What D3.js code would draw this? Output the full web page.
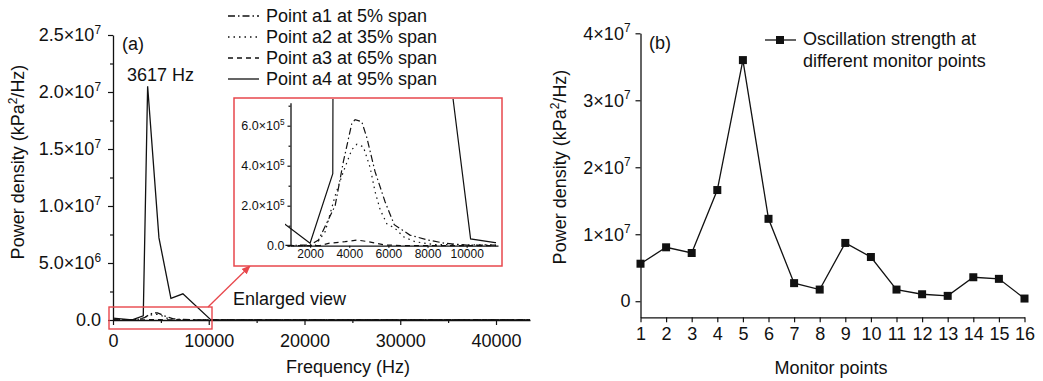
<!DOCTYPE html>
<html>
<head>
<meta charset="utf-8">
<script src="https://cdn.jsdelivr.net/npm/d3@7"></script>
<style>
  body { margin: 0; background: #fff; }
  svg text { font-family: "Liberation Sans", Arial, sans-serif; fill: #111; }
</style>
</head>
<body>
<div id="graf"></div>
<script>
// Datos gráfica (a): frecuencia (Hz) y densidad espectral
const freqA1 = [0, 2000, 2430, 3280, 3700, 4130, 4300, 4640, 4900, 5320, 5830, 6300, 7100, 8040, 8890, 10000, 43550]
const psdA1 = [0, 3.5e3, 2.8e4, 2.0e5, 4.2e5, 6.1e5, 6.3e5, 6.2e5, 5.4e5, 3.7e5, 2.2e5, 1.05e5, 5.3e4, 2.8e4, 1.2e4, 3e3, 0]

const freqA2 = [0, 2260, 2770, 3280, 3700, 4130, 4390, 4720, 5070, 5320, 5580, 5920, 6340, 6770, 7360, 8380, 43550]
const psdA2 = [0, 0, 7e4, 2.5e5, 3.7e5, 4.8e5, 5.07e5, 4.95e5, 3.9e5, 2.7e5, 1.8e5, 1.1e5, 8.7e4, 4.5e4, 2e4, 5e3, 0]

const freqA3 = [0, 2500, 2940, 3790, 4390, 4980, 5830, 7000, 43550]
const psdA3 = [0, 0, 1.2e4, 2e4, 2.85e4, 2e4, 3.5e3, 0, 0]

const freqA4 = [0, 2000, 3160, 3617, 4800, 6050, 7300, 10200, 11450, 43550]
const psdA4 = [1.6e5, 1.2e4, 3.6e5, 2.05e7, 7.2e6, 1.9e6, 2.3e6, 3.4e4, 1.5e4, 0]

const seriesNames = ['Point a1 at 5% span', 'Point a2 at 35% span', 'Point a3 at 65% span', 'Point a4 at 95% span']
const seriesDash = ['7,3,1.5,3', '1.5,4', '5,4', null]

// Ticks gráfica (a)
const xTicksA = [0, 10000, 20000, 30000, 40000]
const xMinorA = [5000, 15000, 25000, 35000]
const yTicksA = [0, 5e6, 1e7, 1.5e7, 2e7, 2.5e7]
const yMinorA = [2.5e6, 7.5e6, 1.25e7, 1.75e7, 2.25e7]
const xTicksIn = [2000, 4000, 6000, 8000, 10000]
const yTicksIn = [0, 2e5, 4e5, 6e5]
const yMinorIn = [1e5, 3e5, 5e5, 7e5]

// Datos gráfica (b)
const monitorPoints = [1, 2, 3, 4, 5, 6, 7, 8, 9, 10, 11, 12, 13, 14, 15, 16]
const strength = [5.6e6, 8.05e6, 7.2e6, 1.66e7, 3.6e7, 1.23e7, 2.7e6, 1.74e6, 8.7e6, 6.6e6, 1.74e6, 1.04e6, 0.8e6, 3.58e6, 3.34e6, 0.4e6]
const yTicksB = [0, 1e7, 2e7, 3e7, 4e7]

const red = '#e8474c'
const ink = '#111'

const svg = d3.select('#graf')
  .append('svg')
  .attr('width', 1043)
  .attr('height', 381)

svg.append('rect').attr('width', 1043).attr('height', 381).attr('fill', 'white')

// Etiqueta científica con superíndice
const sciLabel = (sel, v, digits, size) => {
  sel.text(null)
  if (v === 0) {
    sel.text(digits ? (0).toFixed(digits) : '0')
    return
  }
  const e = Math.floor(Math.log10(v) + 1e-9)
  const m = v / Math.pow(10, e)
  sel.append('tspan').text(`${digits ? m.toFixed(digits) : m}×10`)
  sel.append('tspan')
    .attr('dy', -size * 0.42)
    .attr('font-size', size * 0.66)
    .text(e)
}

const styleAxis = (g, size) => {
  g.attr('font-family', null).attr('font-size', size)
  g.select('.domain').attr('stroke', ink).attr('stroke-width', 1.3)
  g.selectAll('.tick line').attr('stroke', ink).attr('stroke-width', 1.2)
  g.selectAll('.tick text').attr('fill', ink)
}

const powerTitle = (x, y) => {
  const t = svg.append('text')
    .attr('transform', `translate(${x}, ${y}) rotate(-90)`)
    .attr('text-anchor', 'middle')
    .attr('font-size', 18)
  t.append('tspan').text('Power density (kPa')
  t.append('tspan').attr('dy', -7).attr('font-size', 12).text('2')
  t.append('tspan').attr('dy', 7).text('/Hz)')
}

// ---------------- Gráfica (a) ----------------
const xA = d3.scaleLinear().domain([0, 43550]).range([113, 530])
const yA = d3.scaleLinear().domain([0, 2.5e7]).range([320, 35])

const gA = svg.append('g')

const toPoints = (fs, vs) => fs.map((f, i) => ({ f: f, v: vs[i] }))
const seriesA = [
  toPoints(freqA1, psdA1),
  toPoints(freqA2, psdA2),
  toPoints(freqA3, psdA3),
  toPoints(freqA4, psdA4)
]

const lineA = d3.line().x((d) => xA(d.f)).y((d) => yA(d.v))

gA.selectAll('.serieA')
  .data(seriesA)
  .enter()
  .append('path')
  .attr('class', 'serieA')
  .attr('fill', 'none')
  .attr('stroke', ink)
  .attr('stroke-width', 1.3)
  .attr('stroke-dasharray', (d, i) => seriesDash[i])
  .attr('d', lineA)

// Ejes (a)
const xAxisA = gA.append('g')
  .attr('transform', `translate(0, ${yA(0)})`)
  .call(d3.axisBottom(xA).tickValues(xTicksA.concat(xMinorA)).tickSize(5).tickSizeOuter(0).tickPadding(9).tickFormat(d3.format('d')))
styleAxis(xAxisA, 18)
xAxisA.selectAll('.tick')
  .filter((d) => xMinorA.includes(d))
  .each(function () {
    d3.select(this).select('line').attr('y2', 3)
    d3.select(this).select('text').text('')
  })

const yAxisA = gA.append('g')
  .attr('transform', `translate(${xA(0)}, 0)`)
  .call(d3.axisLeft(yA).tickValues(yTicksA.concat(yMinorA)).tickSize(5).tickSizeOuter(0).tickPadding(7))
styleAxis(yAxisA, 18)
yAxisA.selectAll('.tick').each(function (d) {
  const t = d3.select(this)
  if (yMinorA.includes(d)) {
    t.select('line').attr('x2', -3)
    t.select('text').text('')
  } else {
    t.select('text').call(sciLabel, d, 1, 18)
  }
})

powerTitle(24, 162)

svg.append('text')
  .attr('x', 348)
  .attr('y', 373)
  .attr('text-anchor', 'middle')
  .attr('font-size', 18)
  .text('Frequency (Hz)')

svg.append('text').attr('x', 122).attr('y', 50).attr('font-size', 18).text('(a)')
svg.append('text').attr('x', 127).attr('y', 81).attr('font-size', 18).text('3617 Hz')

// Leyenda (a)
const legA = svg.append('g')
  .selectAll('g')
  .data(seriesNames)
  .enter()
  .append('g')
  .attr('transform', (d, i) => `translate(0, ${16 + i * 21})`)

legA.append('line')
  .attr('x1', 228)
  .attr('x2', 259)
  .attr('stroke', ink)
  .attr('stroke-width', 1.3)
  .attr('stroke-dasharray', (d, i) => seriesDash[i])

legA.append('text')
  .attr('x', 266)
  .attr('y', 6)
  .attr('font-size', 18)
  .text((d) => d)

// Vista ampliada
svg.append('rect')
  .attr('x', 109).attr('y', 307)
  .attr('width', 103).attr('height', 22)
  .attr('fill', 'none').attr('stroke', red).attr('stroke-width', 1.4)

svg.append('defs').append('marker')
  .attr('id', 'flecha')
  .attr('viewBox', '0 0 10 10')
  .attr('refX', 9).attr('refY', 5)
  .attr('markerWidth', 7).attr('markerHeight', 7)
  .attr('orient', 'auto')
  .append('path')
  .attr('d', 'M0,1 L10,5 L0,9 z')
  .attr('fill', red)

svg.append('line')
  .attr('x1', 208).attr('y1', 307)
  .attr('x2', 250).attr('y2', 266)
  .attr('stroke', red).attr('stroke-width', 1.3)
  .attr('marker-end', 'url(#flecha)')

svg.append('text').attr('x', 233).attr('y', 305).attr('font-size', 18).text('Enlarged view')

svg.append('rect')
  .attr('x', 234).attr('y', 98)
  .attr('width', 268).attr('height', 168)
  .attr('fill', 'white').attr('stroke', red).attr('stroke-width', 1.5)

const xIn = d3.scaleLinear().domain([1000, 11600]).range([290.5, 498])
const yIn = d3.scaleLinear().domain([0, 7.15e5]).range([245.7, 102.7])

svg.select('defs').append('clipPath')
  .attr('id', 'clipIn')
  .append('rect')
  .attr('x', 285).attr('y', 99)
  .attr('width', 211).attr('height', 150)

const lineIn = d3.line().x((d) => xIn(d.f)).y((d) => yIn(d.v))

const gIn = svg.append('g')

gIn.append('g')
  .attr('clip-path', 'url(#clipIn)')
  .selectAll('path')
  .data(seriesA)
  .enter()
  .append('path')
  .attr('fill', 'none')
  .attr('stroke', ink)
  .attr('stroke-width', 1.2)
  .attr('stroke-dasharray', (d, i) => seriesDash[i])
  .attr('d', lineIn)

const xAxisIn = gIn.append('g')
  .attr('transform', `translate(0, ${yIn(0)})`)
  .call(d3.axisBottom(xIn).tickValues(xTicksIn).tickSize(2).tickSizeOuter(0).tickPadding(2).tickFormat(d3.format('d')))
styleAxis(xAxisIn, 12)

const yAxisIn = gIn.append('g')
  .attr('transform', `translate(${xIn(1000)}, 0)`)
  .call(d3.axisLeft(yIn).tickValues(yTicksIn.concat(yMinorIn)).tickSize(3).tickSizeOuter(0).tickPadding(3))
styleAxis(yAxisIn, 12.5)
yAxisIn.selectAll('.tick').each(function (d) {
  const t = d3.select(this)
  if (yMinorIn.includes(d)) {
    t.select('line').attr('x2', -2)
    t.select('text').text('')
  } else {
    t.select('text').call(sciLabel, d, 1, 12.5)
  }
})

// ---------------- Gráfica (b) ----------------
const xB = d3.scaleLinear().domain([1, 16]).range([640.5, 1024.5])
const yB = d3.scaleLinear().domain([-2.4e6, 4e7]).range([317.3, 33.3])

const gB = svg.append('g')

const xAxisB = gB.append('g')
  .attr('transform', `translate(0, ${yB.range()[0]})`)
  .call(d3.axisBottom(xB).tickValues(monitorPoints).tickSize(5).tickSizeOuter(0).tickPadding(5).tickFormat(d3.format('d')))
styleAxis(xAxisB, 18)

const yAxisB = gB.append('g')
  .attr('transform', `translate(${xB(1)}, 0)`)
  .call(d3.axisLeft(yB).tickValues(yTicksB).tickSize(5).tickSizeOuter(0).tickPadding(5))
styleAxis(yAxisB, 18)
yAxisB.selectAll('.tick text').each(function (d) {
  d3.select(this).call(sciLabel, d, 0, 18)
})

const dataB = monitorPoints.map((p, i) => ({ p: p, v: strength[i] }))

gB.append('path')
  .datum(dataB)
  .attr('fill', 'none')
  .attr('stroke', ink)
  .attr('stroke-width', 1.3)
  .attr('d', d3.line().x((d) => xB(d.p)).y((d) => yB(d.v)))

gB.selectAll('.marca')
  .data(dataB)
  .enter()
  .append('rect')
  .attr('class', 'marca')
  .attr('x', (d) => xB(d.p) - 4)
  .attr('y', (d) => yB(d.v) - 4)
  .attr('width', 8)
  .attr('height', 8)
  .attr('fill', ink)

powerTitle(566, 167)

svg.append('text')
  .attr('x', 831)
  .attr('y', 374)
  .attr('text-anchor', 'middle')
  .attr('font-size', 18)
  .text('Monitor points')

svg.append('text').attr('x', 649).attr('y', 49).attr('font-size', 18).text('(b)')

// Leyenda (b)
const legB = svg.append('g')
legB.append('line')
  .attr('x1', 765).attr('x2', 796)
  .attr('y1', 40).attr('y2', 40)
  .attr('stroke', ink).attr('stroke-width', 1.3)
legB.append('rect')
  .attr('x', 776).attr('y', 36)
  .attr('width', 8).attr('height', 8)
  .attr('fill', ink)
legB.append('text').attr('x', 803).attr('y', 45).attr('font-size', 18).text('Oscillation strength at')
legB.append('text').attr('x', 803).attr('y', 67).attr('font-size', 18).text('different monitor points')
</script>
</body>
</html>
